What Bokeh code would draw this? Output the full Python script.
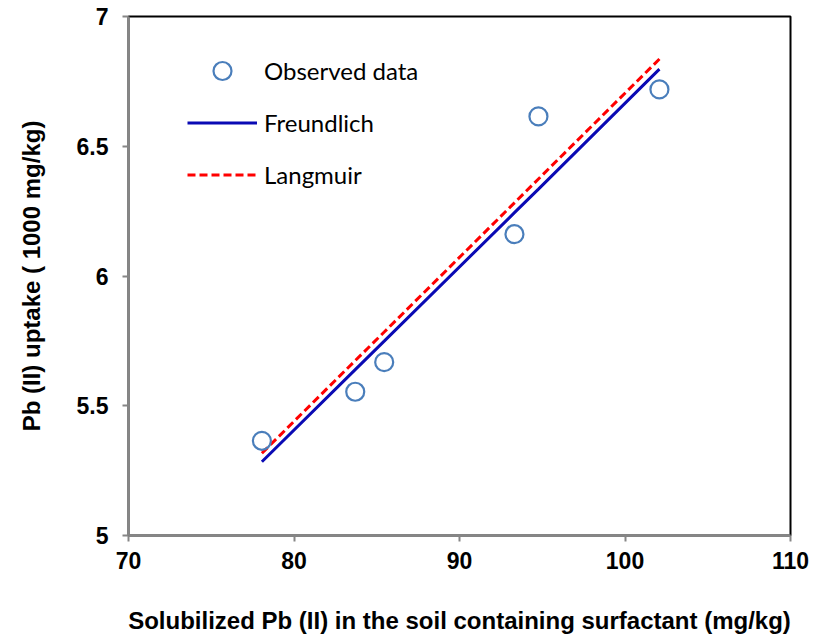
from bokeh.plotting import figure
from bokeh.models import Range1d, Legend, LegendItem, FixedTicker
from bokeh.embed import file_html
from bokeh.resources import INLINE

# Data
x_obs = [78.06, 83.70, 85.45, 93.32, 94.77, 102.08]
y_obs = [5.365, 5.554, 5.668, 6.161, 6.615, 6.719]
freundlich_y = [5.284, 5.639, 5.749, 6.244, 6.335, 6.797]
langmuir_y = [5.317, 5.674, 5.784, 6.282, 6.374, 6.836]

x_ticks = [70, 80, 90, 100, 110]
y_ticks = [5, 5.5, 6, 6.5, 7]
y_tick_labels = ["5", "5.5", "6", "6.5", "7"]

p = figure(width=814, height=636, output_backend="svg", toolbar_location=None,
           x_range=Range1d(70, 110), y_range=Range1d(5, 7),
           min_border_left=128, min_border_right=24, min_border_top=16, min_border_bottom=99)
p.background_fill_color = "white"
p.border_fill_color = "white"
p.outline_line_color = "black"
p.outline_line_width = 2
p.xgrid.visible = False
p.ygrid.visible = False

for ax in (p.xaxis[0], p.yaxis[0]):
    ax.axis_line_color = "#868686"
    ax.axis_line_width = 2.5
    ax.major_tick_line_color = "#868686"
    ax.major_tick_line_width = 2
    ax.major_tick_out = 6
    ax.major_tick_in = 0
    ax.minor_tick_line_color = None
    ax.major_label_text_font = "Liberation Sans"
    ax.major_label_text_font_style = "bold"
    ax.major_label_text_font_size = "23px"
    ax.major_label_text_color = "black"
    ax.axis_label_text_font = "Liberation Sans"
    ax.axis_label_text_font_style = "bold"
    ax.axis_label_text_font_size = "24px"
    ax.axis_label_text_color = "black"

p.xaxis.ticker = FixedTicker(ticks=x_ticks)
p.yaxis.ticker = FixedTicker(ticks=y_ticks)
p.yaxis.major_label_overrides = {t: l for t, l in zip(y_ticks, y_tick_labels)}
p.xaxis.major_label_standoff = 10
p.yaxis.major_label_standoff = 14
p.xaxis.axis_label = "Solubilized Pb (II) in the soil containing surfactant (mg/kg)"
p.yaxis.axis_label = "Pb (II) uptake ( 1000 mg/kg)"
p.xaxis.axis_label_standoff = 35
p.yaxis.axis_label_standoff = 29

r_f = p.line(x_obs, freundlich_y, line_color="#0A0AB4", line_width=3)
r_l = p.line(x_obs, langmuir_y, line_color="#FF0000", line_width=3, line_dash="8 4")
r_o = p.scatter(x_obs, y_obs, marker="circle", size=18, fill_color=None,
                line_color="#4A7EBB", line_width=2.2)

legend = Legend(items=[
    LegendItem(label="Observed data", renderers=[r_o]),
    LegendItem(label="Freundlich", renderers=[r_f]),
    LegendItem(label="Langmuir", renderers=[r_l]),
], location=(59, 338))
legend.border_line_color = None
legend.background_fill_alpha = 0
legend.padding = 0
legend.margin = 0
legend.spacing = 7
legend.glyph_width = 70
legend.glyph_height = 45
legend.label_height = 45
legend.label_standoff = 7
legend.label_text_font = "Lato"
legend.label_text_font_size = "24px"
legend.label_text_color = "black"
p.add_layout(legend)

open("out.html", "w").write(file_html(p, INLINE))
